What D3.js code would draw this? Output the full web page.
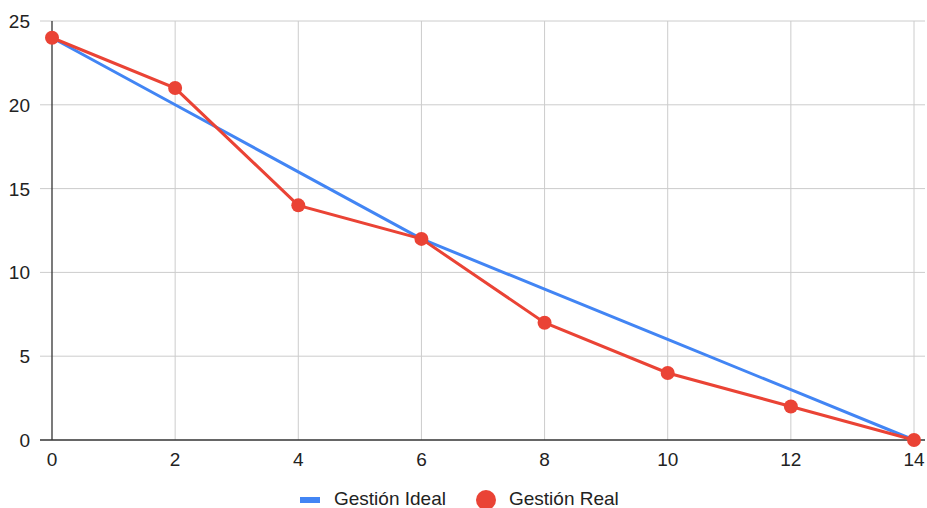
<!DOCTYPE html>
<html>
<head>
<meta charset="utf-8">
<script src="https://cdn.jsdelivr.net/npm/d3@7"></script>
<style>
  body { margin: 0; background: #fff; }
  text { font-family: Arial, "Liberation Sans", sans-serif; }
</style>
</head>
<body>
<svg id="chart" width="927" height="508"></svg>
<script>
const days = [0, 2, 4, 6, 8, 10, 12, 14];
const idealValues = [24, 20, 16, 12, 9, 6, 3, 0];
const realValues = [24, 21, 14, 12, 7, 4, 2, 0];
const yTicks = [0, 5, 10, 15, 20, 25];
const xTicks = [0, 2, 4, 6, 8, 10, 12, 14];
const seriesNames = ["Gestión Ideal", "Gestión Real"];

const svg = d3.select("#chart");
const x = d3.scaleLinear().domain([0, 14]).range([52, 914]);
const y = d3.scaleLinear().domain([0, 25]).range([440, 21]);

// gridlines
svg.append("g")
  .selectAll("line")
  .data(yTicks.filter(d => d > 0))
  .join("line")
  .attr("x1", 40).attr("x2", 925)
  .attr("y1", d => y(d)).attr("y2", d => y(d))
  .attr("stroke", "#cccccc").attr("stroke-width", 1);

svg.append("g")
  .selectAll("line")
  .data(xTicks.filter(d => d > 0))
  .join("line")
  .attr("x1", d => x(d)).attr("x2", d => x(d))
  .attr("y1", y(25)).attr("y2", y(0))
  .attr("stroke", "#cccccc").attr("stroke-width", 1);

// axis lines
svg.append("line")
  .attr("x1", x(0)).attr("x2", x(0))
  .attr("y1", y(25)).attr("y2", y(0))
  .attr("stroke", "#333").attr("stroke-width", 1.3);
svg.append("line")
  .attr("x1", 40).attr("x2", 925)
  .attr("y1", y(0)).attr("y2", y(0))
  .attr("stroke", "#333").attr("stroke-width", 1.3);

// tick labels
svg.append("g")
  .selectAll("text")
  .data(yTicks)
  .join("text")
  .attr("x", 30)
  .attr("y", d => y(d) + 7)
  .attr("text-anchor", "end")
  .attr("font-size", 19)
  .attr("fill", "#222")
  .text(d => d);

svg.append("g")
  .selectAll("text")
  .data(xTicks)
  .join("text")
  .attr("x", d => x(d))
  .attr("y", 466)
  .attr("text-anchor", "middle")
  .attr("font-size", 19)
  .attr("fill", "#222")
  .text(d => d);

const line = d3.line()
  .x(d => x(d[0]))
  .y(d => y(d[1]));

const ideal = days.map((d, i) => [d, idealValues[i]]);
const real = days.map((d, i) => [d, realValues[i]]);

svg.append("path")
  .datum(ideal)
  .attr("d", line)
  .attr("fill", "none")
  .attr("stroke", "#4285F4")
  .attr("stroke-width", 3);

svg.append("path")
  .datum(real)
  .attr("d", line)
  .attr("fill", "none")
  .attr("stroke", "#EA4335")
  .attr("stroke-width", 3);

svg.append("g")
  .selectAll("circle")
  .data(real)
  .join("circle")
  .attr("cx", d => x(d[0]))
  .attr("cy", d => y(d[1]))
  .attr("r", 7)
  .attr("fill", "#EA4335");

// legend
const legend = svg.append("g");
legend.append("rect")
  .attr("x", 300).attr("y", 497)
  .attr("width", 20).attr("height", 6)
  .attr("fill", "#4285F4");
legend.append("text")
  .attr("x", 334).attr("y", 505)
  .attr("font-size", 19).attr("fill", "#222")
  .text(seriesNames[0]);
legend.append("circle")
  .attr("cx", 486).attr("cy", 500).attr("r", 10)
  .attr("fill", "#EA4335");
legend.append("text")
  .attr("x", 509).attr("y", 505)
  .attr("font-size", 19).attr("fill", "#222")
  .text(seriesNames[1]);
</script>
</body>
</html>
